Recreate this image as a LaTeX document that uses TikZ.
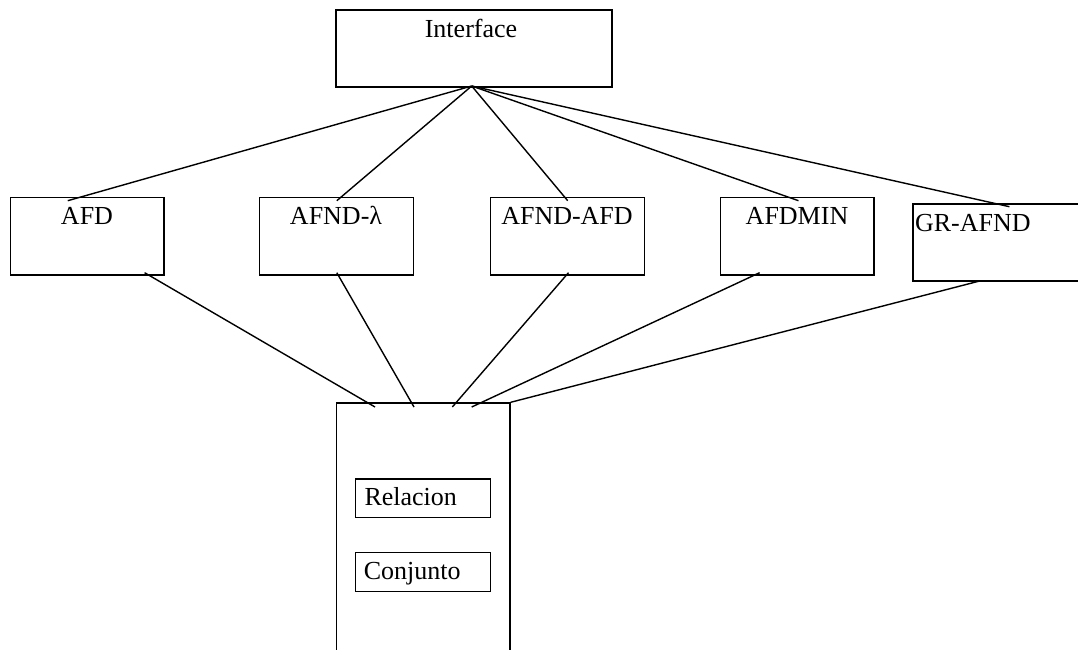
\documentclass[tikz,border=0pt]{standalone}
\usepackage{fontspec}
\setmainfont{Liberation Serif}
\begin{document}
\begin{tikzpicture}[x=1pt,y=-1pt,
  box/.style={draw, line width=1.4pt, rectangle, inner sep=0pt},
  lbl/.style={inner sep=0pt, font=\fontsize{26}{31}\selectfont},
  conn/.style={line width=1.4pt}]
\useasboundingbox (0,0) rectangle (1078,650);
\clip (0,0) rectangle (1078,650);
% boxes
\node[box, minimum width=276pt, minimum height=77pt] (iface) at (474,48.5) {};
\node[box, minimum width=153.7pt, minimum height=77.3pt] (afd) at (87.2,236.4) {};
\node[box, minimum width=154.3pt, minimum height=77.3pt] (lam) at (336.5,236.4) {};
\node[box, minimum width=154.5pt, minimum height=77.3pt] (aa) at (567.5,236.4) {};
\node[box, minimum width=153.7pt, minimum height=77.3pt] (min) at (797.2,236.4) {};
\node[box, minimum width=177pt, minimum height=77pt] (gr) at (1001.5,242.5) {};
\node[box, minimum width=173.3pt, minimum height=267pt] (store) at (423.3,536.5) {};
\node[box, minimum width=135pt, minimum height=38.7pt] (rel) at (423.2,498.3) {};
\node[box, minimum width=135pt, minimum height=38.6pt] (conj) at (423.2,572) {};
% labels
\node[lbl, anchor=base] (tiface) at (471,37.5) {Interface};
\node[lbl, anchor=base] (tafd) at (87,224.5) {AFD};
\node[lbl, anchor=base] (tlam) at (336,224.5) {AFND-λ};
\node[lbl, anchor=base] (taa) at (567,224.5) {AFND-AFD};
\node[lbl, anchor=base] (tmin) at (797,224.5) {AFDMIN};
\node[lbl, anchor=base west] (tgr) at (914.8,231) {GR-AFND};
\node[lbl, anchor=base west] (trel) at (364.3,505) {Relacion};
\node[lbl, anchor=base west] (tconj) at (363.7,579.3) {Conjunto};
% connector end points
\coordinate (hub) at (471.7,86);
\coordinate (afdIn) at (67.8,200.7);
\coordinate (lamIn) at (336.8,200.7);
\coordinate (aaIn) at (567.7,200.7);
\coordinate (minIn) at (798.5,200.7);
\coordinate (grIn) at (1009.4,206.7);
\coordinate (afdOut) at (144.6,272.7);
\coordinate (lamOut) at (336.8,272.7);
\coordinate (aaOut) at (568.5,272.7);
\coordinate (minOut) at (759.6,272.7);
\coordinate (grOut) at (979.6,281);
\coordinate (s1) at (375,407);
\coordinate (s2) at (414,407);
\coordinate (s3) at (452.3,407);
\coordinate (s4) at (471.7,407);
% connectors
\draw[conn] (hub) -- (afdIn);
\draw[conn] (hub) -- (lamIn);
\draw[conn] (hub) -- (aaIn);
\draw[conn] (hub) -- (minIn);
\draw[conn] (hub) -- (grIn);
\draw[conn] (afdOut) -- (s1);
\draw[conn] (lamOut) -- (s2);
\draw[conn] (aaOut) -- (s3);
\draw[conn] (minOut) -- (s4);
\draw[conn] (grOut) -- (store.north east);
\end{tikzpicture}
\end{document}
